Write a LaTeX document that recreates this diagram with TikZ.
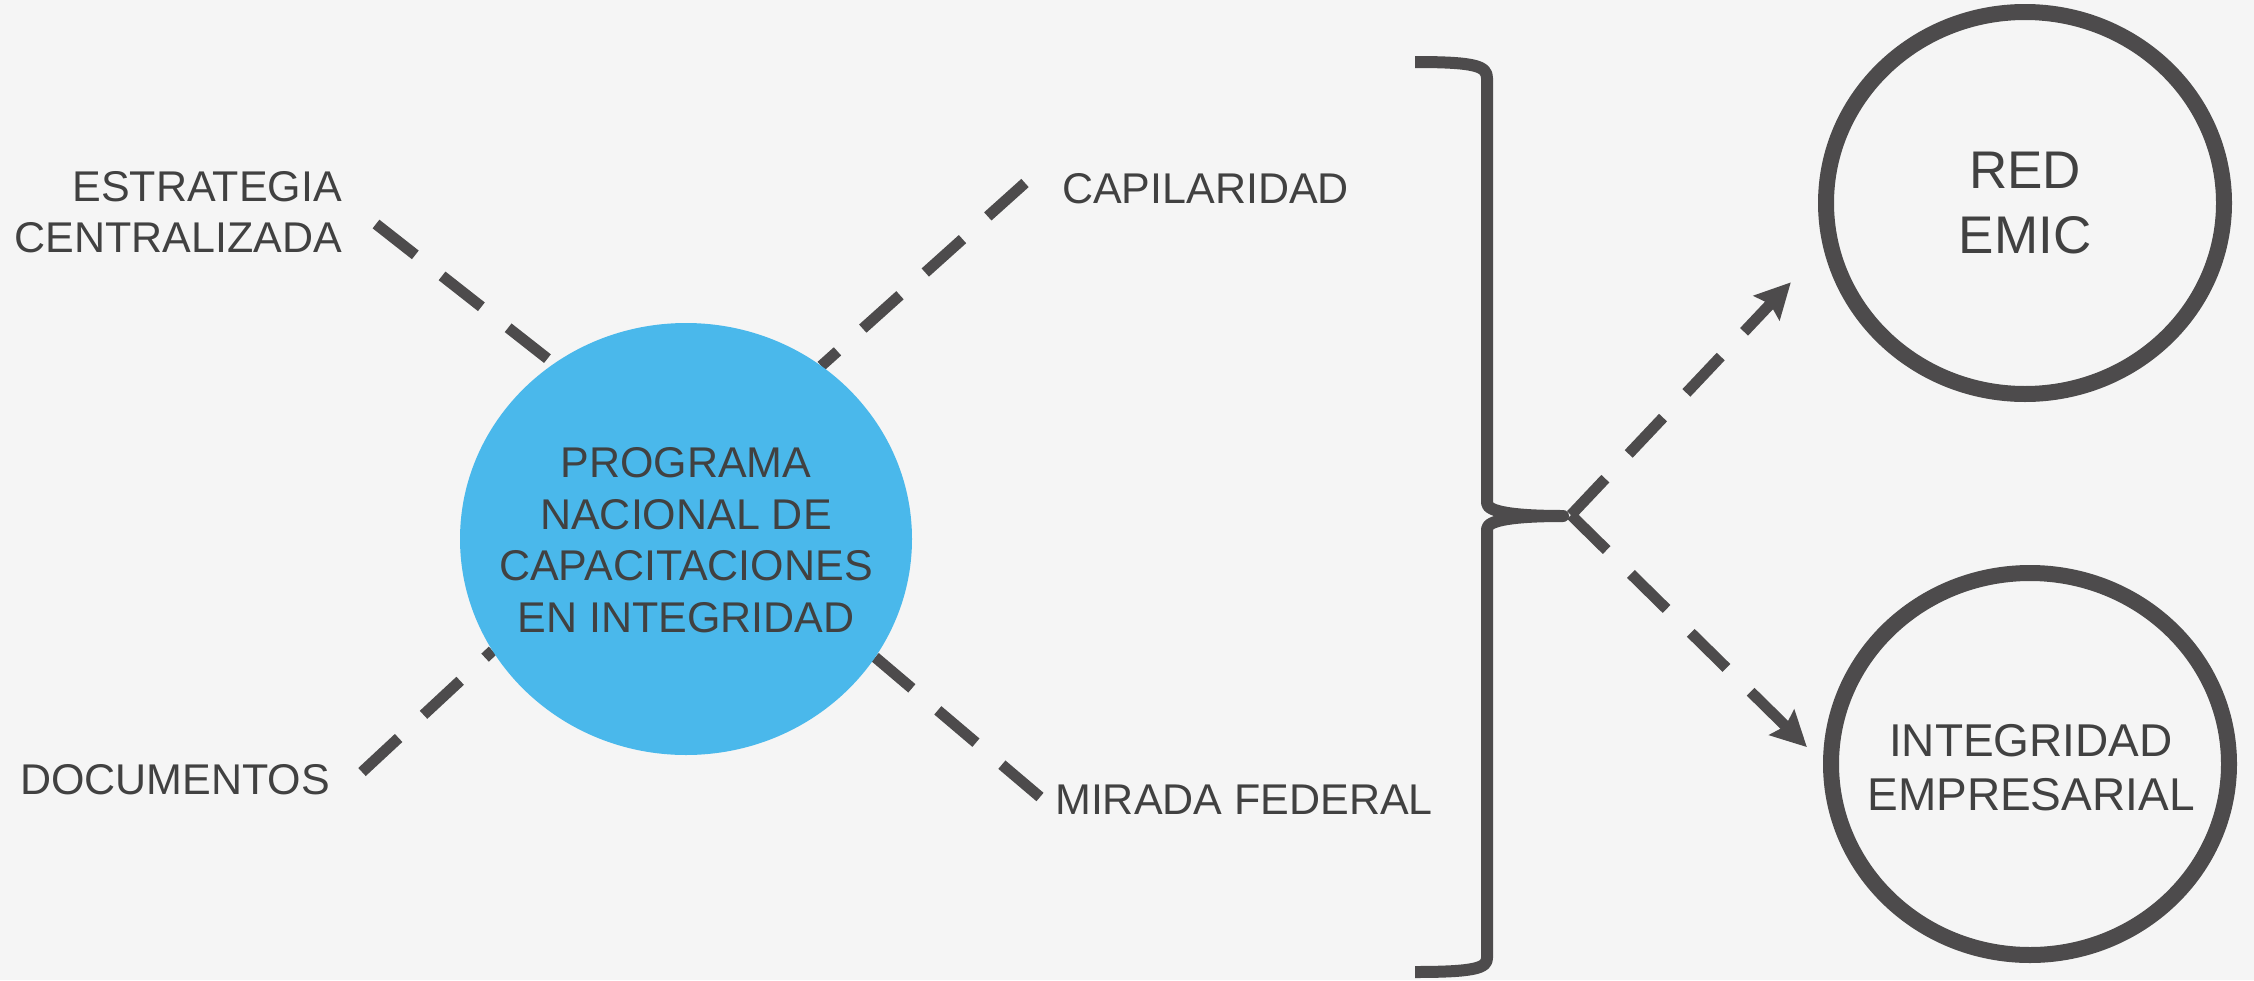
\documentclass[tikz,border=0pt]{standalone}
\usepackage{fontspec}
\setmainfont{Liberation Sans}
\usetikzlibrary{shapes.geometric, arrows.meta, backgrounds, positioning}
\definecolor{bg}{HTML}{F5F5F5}
\definecolor{skyblue}{HTML}{4AB8EB}
\definecolor{darkline}{HTML}{4D4B4C}
\definecolor{darktext}{HTML}{414141}
\tikzstyle{sidetext}=[inner sep=0, text=darktext, font=\fontsize{43}{51}\selectfont]
\tikzstyle{hub}=[shape=ellipse, fill=skyblue, minimum width=452, minimum height=432, inner sep=0, outer sep=0]
\tikzstyle{goal}=[shape=ellipse, draw=darkline, line width=16, minimum width=398, minimum height=382, inner sep=0, outer sep=0]
\tikzstyle{dashline}=[darkline, line width=11, dash pattern=on 50pt off 34pt]
\tikzstyle{dasharrow}=[dashline, -{Stealth[length=35pt,width=35pt,inset=5pt]}]

\begin{document}
\begin{tikzpicture}[x=1pt,y=-1pt]
\useasboundingbox (0,0) rectangle (2254,980);

\node[hub] (prog) at (686,539) {};
\node[sidetext, align=center, font=\fontsize{43}{51.5}\selectfont] (progtxt) at (686,540) {PROGRAMA\\NACIONAL DE\\CAPACITACIONES\\EN INTEGRIDAD};

\node[sidetext, align=right, anchor=east] (strat) at (342,212) {ESTRATEGIA\\CENTRALIZADA};
\node[sidetext, anchor=base west] (capil) at (1062,203) {CAPILARIDAD};
\node[sidetext, anchor=base west] (docs) at (20,794) {DOCUMENTOS};
\node[sidetext, anchor=base west] (mirada) at (1055,814) {MIRADA FEDERAL};

\coordinate (e1) at (376,224);
\coordinate (e2) at (1025,183);
\coordinate (e3) at (362,772);
\coordinate (e4) at (1040,797);

\begin{scope}[on background layer]
\fill[bg] (0,0) rectangle (2254,980);
\foreach \c/\a in {e1/127.8, e2/52.1, e3/210.3, e4/328.1}{
	\draw[dashline] (\c) -- (prog.\a);}
\end{scope}

\draw[darkline, line width=12, line join=round] (1415,62) .. controls (1475,62) and (1487,66) .. (1487,78) -- (1487,503)
	.. controls (1487,512) and (1515,516) .. (1563,516) .. controls (1515,516) and (1487,520) .. (1487,529)
	-- (1487,958) .. controls (1487,968) and (1475,972) .. (1415,972);
\coordinate (tip) at (1571,515);

\node[goal] (red) at (2025,203) {};
\node[sidetext, align=center, font=\fontsize{53}{65}\selectfont] (redtxt) at (red) {RED\\EMIC};
\node[goal] (emp) at (2030,764) {};
\node[sidetext, align=center, font=\fontsize{46}{54}\selectfont] (emptxt) at (2031,768) {INTEGRIDAD\\EMPRESARIAL};

\draw[dasharrow, shorten >=57] (tip) -- (red.191.1);
\draw[dasharrow, shorten >=34] (tip) -- (emp.182.6);
\end{tikzpicture}
\end{document}
